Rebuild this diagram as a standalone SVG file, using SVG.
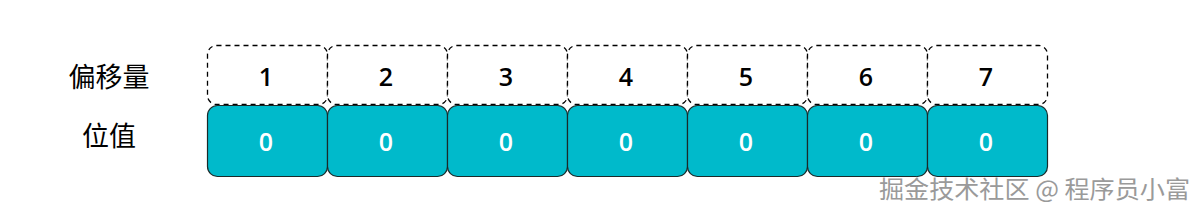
<svg xmlns="http://www.w3.org/2000/svg" width="1202" height="216" viewBox="0 0 1202 216">
<style>
.off{fill:#fff;stroke:#000;stroke-width:1.3;stroke-dasharray:5 4}
.val{fill:#00BACB;stroke:#1a2a2a;stroke-width:1.2}
.num{font-family:"Open Sans","Liberation Sans",sans-serif;font-size:25px;font-weight:600;text-anchor:middle;dominant-baseline:central}
.lbl{font-family:"Noto Sans CJK SC",sans-serif;font-size:27px;fill:#000;text-anchor:middle;dominant-baseline:central}
.wm{font-family:"Noto Sans CJK SC",sans-serif;font-size:24px;fill:#9a9a9a;stroke:#fff;stroke-width:0.8;paint-order:stroke}
</style>
<rect width="1202" height="216" fill="#fff"/>
<g id="labels">
<text class="lbl" x="109" y="75">偏移量</text>
<text class="lbl" x="109" y="134">位值</text>
</g>
<g id="offsets">
<rect class="off" x="207.5" y="45.5" width="120" height="59" rx="9"/>
<rect class="off" x="327.5" y="45.5" width="120" height="59" rx="9"/>
<rect class="off" x="447.5" y="45.5" width="120" height="59" rx="9"/>
<rect class="off" x="567.5" y="45.5" width="120" height="59" rx="9"/>
<rect class="off" x="687.5" y="45.5" width="120" height="59" rx="9"/>
<rect class="off" x="807.5" y="45.5" width="120" height="59" rx="9"/>
<rect class="off" x="927.5" y="45.5" width="120" height="59" rx="9"/>
<text class="num" x="266" y="76" fill="#000">1</text>
<text class="num" x="386" y="76" fill="#000">2</text>
<text class="num" x="506" y="76" fill="#000">3</text>
<text class="num" x="626" y="76" fill="#000">4</text>
<text class="num" x="746" y="76" fill="#000">5</text>
<text class="num" x="866" y="76" fill="#000">6</text>
<text class="num" x="986" y="76" fill="#000">7</text>
</g>
<g id="values">
<rect class="val" x="207.5" y="105.5" width="120" height="71" rx="10"/>
<rect class="val" x="327.5" y="105.5" width="120" height="71" rx="10"/>
<rect class="val" x="447.5" y="105.5" width="120" height="71" rx="10"/>
<rect class="val" x="567.5" y="105.5" width="120" height="71" rx="10"/>
<rect class="val" x="687.5" y="105.5" width="120" height="71" rx="10"/>
<rect class="val" x="807.5" y="105.5" width="120" height="71" rx="10"/>
<rect class="val" x="927.5" y="105.5" width="120" height="71" rx="10"/>
<text class="num" x="266" y="141" fill="#fff">0</text>
<text class="num" x="386" y="141" fill="#fff">0</text>
<text class="num" x="506" y="141" fill="#fff">0</text>
<text class="num" x="626" y="141" fill="#fff">0</text>
<text class="num" x="746" y="141" fill="#fff">0</text>
<text class="num" x="866" y="141" fill="#fff">0</text>
<text class="num" x="986" y="141" fill="#fff">0</text>
</g>
<g id="connectors"></g>
<text class="wm" x="879" y="198" textLength="311" lengthAdjust="spacingAndGlyphs">掘金技术社区 @ 程序员小富</text>
</svg>
